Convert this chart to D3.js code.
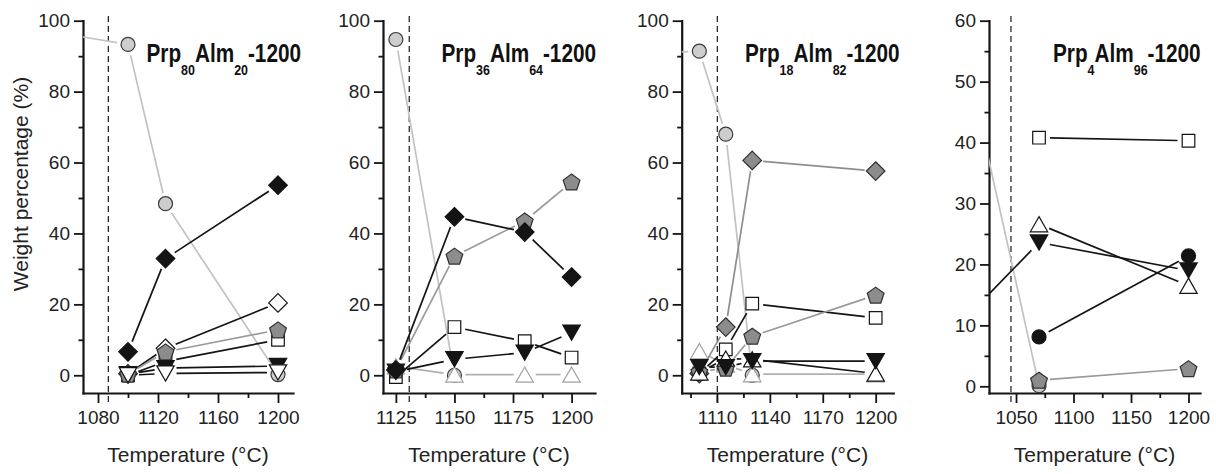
<!DOCTYPE html>
<html>
<head>
<meta charset="utf-8">
<script src="https://cdn.jsdelivr.net/npm/d3@7"></script>
<style>
  html, body { margin: 0; padding: 0; background: #fff; }
  svg { display: block; }
</style>
</head>
<body>
<svg id="chart" width="1216" height="474"></svg>
<script>
// Phase proportions (wt%) against run temperature, four garnet starting compositions.

// Composition labels (pyrope / almandine mole fractions)
const prpValues = ["80", "36", "18", "4"];
const almValues = ["20", "64", "82", "96"];
// Vertical dashed reference temperature of each run series (°C)
const refTemps = [1086.9, 1130.7, 1110.2, 1045.6];

// Prp80Alm20-1200
const temps1 = [1050, 1100, 1125, 1200];
const grayCircle1 = [96.8, 93.3, 48.4, 0.2];
const whiteDiamond1 = [null, 0.4, 7.6, 20.4];
const square1 = [null, 0.0, 3.9, 10.0];
const pentagon1 = [null, 0.3, 6.6, 12.8];
const blackDiamond1 = [null, 6.6, 32.9, 53.6];
const blackDown1 = [null, 0.3, 2.0, 2.6];
const whiteDown1 = [null, 0.0, 0.5, 0.8];

// Prp36Alm64-1200
const temps2 = [1125, 1150, 1180, 1200];
const grayCircle2 = [94.7, 0.0, null, null];
const lightUp2 = [2.5, 0.2, 0.2, 0.2];
const square2 = [-0.5, 13.6, 9.6, 5.0];
const pentagon2 = [1.5, 33.6, 43.5, 54.5];
const blackDiamond2 = [1.5, 44.7, 40.4, 27.7];
const blackDown2 = [1.0, 4.5, 6.4, 12.0];

// Prp18Alm82-1200
const temps3 = [1080, 1100, 1115, 1130, 1200];
const grayCircle3 = [91.0, 91.4, 68.0, 0.0, null];
const lightUp3 = [null, 6.8, 3.0, 0.3, 0.3];
const grayDiamond3 = [null, 0.5, 13.6, 60.6, 57.6];
const square3 = [null, 0.5, 7.3, 20.2, 16.2];
const pentagon3 = [null, 1.0, 2.0, 11.0, 22.6];
const whiteUp3 = [null, 0.8, 4.7, 4.5, 0.5];
const blackDown3 = [null, 2.3, 2.3, 4.0, 4.0];

// Prp4Alm96-1200
const temps4 = [1000, 1070, 1200];
const grayCircle4 = [59.5, 0.1, null];
const square4 = [null, 40.8, 40.3];
const pentagon4 = [null, 1.0, 2.9];
const whiteUp4 = [null, 26.6, 16.5];
const blackDown4 = [10.0, 23.6, 19.0];
const blackCircle4 = [null, 8.1, 21.4];

// Axis ticks
const xMajor = [[1080, 1120, 1160, 1200], [1125, 1150, 1175, 1200], [1110, 1140, 1170, 1200], [1050, 1100, 1150, 1200]];
const xMinor = [[1100, 1140, 1180], [1137.5, 1162.5, 1187.5], [1095, 1125, 1155, 1185], [1075, 1125, 1175]];
const yMajorPct = [0, 20, 40, 60, 80, 100];
const yMinorPct = [10, 30, 50, 70, 90];
const yMajor4 = [0, 10, 20, 30, 40, 50, 60];
const yMinor4 = [5, 15, 25, 35, 45, 55];

// Series tables per panel (drawing order = stacking order)
const panelData = [
  { temps: temps1, series: [["grayCircle", grayCircle1], ["whiteDiamond", whiteDiamond1], ["square", square1],
      ["pentagon", pentagon1], ["blackDiamond", blackDiamond1], ["blackDown", blackDown1], ["whiteDown", whiteDown1]] },
  { temps: temps2, series: [["grayCircle", grayCircle2], ["lightUp", lightUp2], ["square", square2],
      ["pentagon", pentagon2], ["blackDiamond", blackDiamond2], ["blackDown", blackDown2]] },
  { temps: temps3, series: [["grayCircle", grayCircle3], ["lightUp", lightUp3], ["grayDiamond", grayDiamond3],
      ["square", square3], ["pentagon", pentagon3], ["whiteUp", whiteUp3], ["blackDown", blackDown3]] },
  { temps: temps4, series: [["grayCircle", grayCircle4], ["square", square4], ["pentagon", pentagon4],
      ["whiteUp", whiteUp4], ["blackDown", blackDown4], ["blackCircle", blackCircle4]] }
];

// ---- layout ----
const layout = [
  { x0: 83,    x1: 293,    xDom: [1070, 1210],   yDom: [-5, 100],  yMaj: yMajorPct, yMin: yMinorPct, titleX: 146.5 },
  { x0: 383,   x1: 595,    xDom: [1119.5, 1210], yDom: [-5, 100],  yMaj: yMajorPct, yMin: yMinorPct, titleX: 441.5 },
  { x0: 681.7, x1: 893.3,  xDom: [1090, 1210],   yDom: [-5, 100],  yMaj: yMajorPct, yMin: yMinorPct, titleX: 745 },
  { x0: 989,   x1: 1200,   xDom: [1026.5, 1210], yDom: [-1.1, 60], yMaj: yMajor4,   yMin: yMinor4,   titleX: 1053 }
];
const yTop = 20.7, yBottom = 393;
const GAP = 11;            // line-to-symbol gap, px
const TITLE_SCALE_X = 0.83; // condensed title lettering

const INK = "#141414";
const styles = {
  grayCircle:   { shape: "circle",   fill: "#cdcdcd", stroke: "#3a3a3a", line: "#c2c2c2" },
  lightUp:      { shape: "up",       fill: "#ffffff", stroke: "#a2a2a2", line: "#b0b0b0" },
  grayDiamond:  { shape: "diamond",  fill: "#8c8c8c", stroke: "#303030", line: "#8e8e8e" },
  whiteDiamond: { shape: "diamond",  fill: "#ffffff", stroke: INK,       line: INK },
  square:       { shape: "square",   fill: "#ffffff", stroke: INK,       line: INK },
  pentagon:     { shape: "pentagon", fill: "#8c8c8c", stroke: "#303030", line: "#9a9a9a" },
  blackDiamond: { shape: "diamond",  fill: INK,       stroke: INK,       line: INK },
  whiteUp:      { shape: "up",       fill: "#ffffff", stroke: INK,       line: INK },
  blackDown:    { shape: "down",     fill: INK,       stroke: INK,       line: INK },
  whiteDown:    { shape: "down",     fill: "#ffffff", stroke: INK,       line: INK },
  blackCircle:  { shape: "circle",   fill: INK,       stroke: INK,       line: INK }
};

function symbolPath(shape) {
  switch (shape) {
    case "circle": { const r = 7; return `M${-r},0A${r},${r} 0 1,0 ${r},0A${r},${r} 0 1,0 ${-r},0Z`; }
    case "square": { const h = 6.3; return `M${-h},${-h}H${h}V${h}H${-h}Z`; }
    case "diamond": { const h = 9.3; return `M0,${-h}L${h},0L0,${h}L${-h},0Z`; }
    case "up": { const w = 8.7, h = 7.6; return `M0,${-h}L${w},${h}L${-w},${h}Z`; }
    case "down": { const w = 8.7, h = 7.6; return `M0,${h}L${w},${-h}L${-w},${-h}Z`; }
    case "pentagon": {
      const R = 8.8, pts = [];
      for (let k = 0; k < 5; k++) {
        const a = (-90 + 72 * k) * Math.PI / 180;
        pts.push([R * Math.cos(a), R * Math.sin(a) + 0.8]);
      }
      return "M" + pts.map(p => p[0].toFixed(2) + "," + p[1].toFixed(2)).join("L") + "Z";
    }
  }
}

const svg = d3.select("#chart");
const FONT = "'Liberation Sans', Arial, Helvetica, sans-serif";

panelData.forEach((pd, i) => {
  const L = layout[i];
  const x = d3.scaleLinear().domain(L.xDom).range([L.x0, L.x1]);
  const y = d3.scaleLinear().domain(L.yDom).range([yBottom, yTop]);
  const g = svg.append("g");

  const clipId = "clip" + i;
  svg.append("defs").append("clipPath").attr("id", clipId)
    .append("rect").attr("x", L.x0).attr("y", 0).attr("width", L.x1 - L.x0).attr("height", yBottom);

  // dashed reference temperature
  g.append("line")
    .attr("x1", x(refTemps[i])).attr("x2", x(refTemps[i]))
    .attr("y1", 16).attr("y2", yBottom + 11)
    .attr("stroke", "#1a1a1a").attr("stroke-width", 1.2).attr("stroke-dasharray", "6,4");

  // axes
  g.append("g").attr("transform", `translate(0,${yBottom})`)
    .call(d3.axisBottom(x).tickValues(xMajor[i]).tickSize(10).tickSizeOuter(0).tickPadding(8).tickFormat(d3.format("d")));
  g.append("g").attr("transform", `translate(0,${yBottom})`)
    .call(d3.axisBottom(x).tickValues(xMinor[i]).tickSize(5).tickSizeOuter(0).tickFormat(""))
    .call(s => s.select(".domain").remove());
  g.append("g").attr("transform", `translate(${L.x0},0)`)
    .call(d3.axisLeft(y).tickValues(L.yMaj).tickSize(9).tickSizeOuter(0).tickPadding(4).tickFormat(d3.format("d")));
  g.append("g").attr("transform", `translate(${L.x0},0)`)
    .call(d3.axisLeft(y).tickValues(L.yMin).tickSize(4.5).tickSizeOuter(0).tickFormat(""))
    .call(s => s.select(".domain").remove());

  g.selectAll(".domain").attr("stroke", INK).attr("stroke-width", 2.2).attr("stroke-linecap", "square");
  g.selectAll(".tick line").attr("stroke", INK).attr("stroke-width", 1.8);
  g.selectAll(".tick text").attr("font-family", FONT).attr("font-size", 19).attr("fill", "#222");

  // x-axis title
  g.append("text")
    .attr("x", (L.x0 + L.x1) / 2).attr("y", 462)
    .attr("text-anchor", "middle")
    .attr("font-family", FONT).attr("font-size", 21).attr("fill", "#222")
    .text("Temperature (°C)");

  // panel title (bold, horizontally condensed)
  const t = g.append("text")
    .attr("transform", `translate(${L.titleX},62) scale(${TITLE_SCALE_X},1)`)
    .attr("font-family", FONT).attr("font-weight", "bold").attr("font-size", 25).attr("fill", "#111");
  t.append("tspan").text("Prp");
  t.append("tspan").attr("font-size", 15).attr("dy", 13).text(prpValues[i]);
  t.append("tspan").attr("dy", -13).text("Alm");
  t.append("tspan").attr("font-size", 15).attr("dy", 13).text(almValues[i]);
  t.append("tspan").attr("dy", -13).text("-1200");

  // connecting lines with gaps at the symbols
  const lineLayer = g.append("g").attr("clip-path", `url(#${clipId})`);
  pd.series.forEach(([name, vals]) => {
    const st = styles[name];
    const pts = [];
    vals.forEach((v, k) => { if (v !== null) pts.push({ t: pd.temps[k], px: x(pd.temps[k]), py: y(v) }); });
    for (let k = 0; k < pts.length - 1; k++) {
      const a = pts[k], b = pts[k + 1];
      const dx = b.px - a.px, dy = b.py - a.py, d = Math.hypot(dx, dy);
      const startGap = a.t < L.xDom[0] ? 0 : GAP;
      if (d <= startGap + GAP + 0.5) continue;
      const ux = dx / d, uy = dy / d;
      lineLayer.append("line")
        .attr("x1", a.px + ux * startGap).attr("y1", a.py + uy * startGap)
        .attr("x2", b.px - ux * GAP).attr("y2", b.py - uy * GAP)
        .attr("stroke", st.line).attr("stroke-width", 1.7);
    }
  });

  // symbols
  pd.series.forEach(([name, vals]) => {
    const st = styles[name];
    const data = vals.map((v, k) => ({ t: pd.temps[k], v })).filter(d => d.v !== null && d.t >= L.xDom[0]);
    g.append("g").selectAll("path").data(data).join("path")
      .attr("transform", d => `translate(${x(d.t)},${y(d.v)})`)
      .attr("d", symbolPath(st.shape))
      .attr("fill", st.fill).attr("stroke", st.stroke).attr("stroke-width", 1.2)
      .attr("stroke-linejoin", "miter");
  });
});

// shared y-axis title
svg.append("text")
  .attr("transform", "translate(28,184) rotate(-90)")
  .attr("text-anchor", "middle")
  .attr("font-family", FONT).attr("font-size", 21).attr("fill", "#222")
  .text("Weight percentage (%)");
</script>
</body>
</html>
